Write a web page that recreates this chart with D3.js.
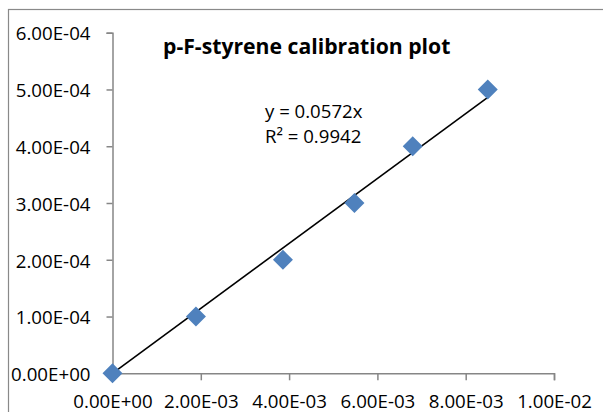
<!DOCTYPE html>
<html lang="en">
<head>
<meta charset="UTF-8">
<title>p-F-styrene calibration plot</title>
<style>
    body, html { margin: 0; overflow: hidden; background: #fff; }
    text { font-family: "Open Sans", "Liberation Sans", sans-serif; fill: #000; }
</style>
</head>
<body>
<script src="https://d3js.org/d3.v7.min.js"></script>
<script>
    // data
    const xValues = [0, 0.00189, 0.00386, 0.00548, 0.0068, 0.0085];
    const yValues = [0, 0.0001, 0.0002, 0.0003, 0.0004, 0.0005];
    const xTicks = [0, 0.002, 0.004, 0.006, 0.008, 0.01];
    const yTicks = [0, 0.0001, 0.0002, 0.0003, 0.0004, 0.0005, 0.0006];
    const slope = 0.0572;
    const eqLines = ["y = 0.0572x", "R\u00B2 = 0.9942"];
    const title = "p-F-styrene calibration plot";

    const width = 603, height = 412;

    const svg = d3.select("body").append("svg")
        .attr("width", width)
        .attr("height", height);

    // outer chart frame (cut off on the right and bottom)
    svg.append("rect")
        .attr("x", 8.5).attr("y", 9.5)
        .attr("width", 620).attr("height", 430)
        .attr("fill", "none")
        .attr("stroke", "#898989")
        .attr("stroke-width", 1.2);

    const x = d3.scaleLinear().domain([0, 0.01]).range([112.5, 554]);
    const y = d3.scaleLinear().domain([0, 0.0006]).range([373.3, 32.7]);

    // Excel style exponent labels
    const fmt = d => {
        const s = d.toExponential(2).toUpperCase();
        return s.replace(/E([+-])(\d)$/, "E$10$2");
    };

    const xAxis = svg.append("g")
        .attr("transform", `translate(0,${y(0)})`)
        .call(d3.axisBottom(x).tickValues(xTicks).tickFormat(fmt).tickSizeOuter(0).tickSize(7).tickPadding(6));

    const yAxis = svg.append("g")
        .attr("transform", `translate(${x(0)},0)`)
        .call(d3.axisLeft(y).tickValues(yTicks).tickFormat(fmt).tickSizeOuter(0).tickSize(6).tickPadding(16));

    [xAxis, yAxis].forEach(g => {
        g.select(".domain").attr("stroke", "#868686").attr("stroke-width", 1.5);
        g.selectAll(".tick line").attr("stroke", "#868686").attr("stroke-width", 1.5);
        g.selectAll("text")
            .attr("fill", "#000")
            .style("font-family", '"Open Sans", sans-serif')
            .style("font-size", "18.7px");
    });
    xAxis.selectAll("text").attr("dy", "1.18em");
    yAxis.selectAll("text").attr("dy", "0.39em");

    // trendline through origin
    const xMax = d3.max(xValues);
    svg.append("line")
        .attr("x1", x(0)).attr("y1", y(0))
        .attr("x2", x(xMax)).attr("y2", y(slope * xMax))
        .attr("stroke", "#000")
        .attr("stroke-width", 1.6);

    // diamond markers
    const diamond = d3.symbol().type(d3.symbolSquare).size(200);
    svg.selectAll(".pt")
        .data(xValues.map((v, i) => [v, yValues[i]]))
        .enter().append("path")
        .attr("class", "pt")
        .attr("d", diamond)
        .attr("transform", d => `translate(${x(d[0])},${y(d[1])}) rotate(45)`)
        .attr("fill", "#4F81BD");

    // title
    svg.append("text")
        .attr("x", 163).attr("y", 53.5)
        .style("font-size", "21.2px")
        .style("font-weight", "bold")
        .text(title);

    // equation
    svg.selectAll(".eq")
        .data(eqLines)
        .enter().append("text")
        .attr("class", "eq")
        .attr("x", 265)
        .attr("y", (d, i) => 118 + i * 24.6)
        .style("font-size", "18.6px")
        .text(d => d);
</script>
</body>
</html>
